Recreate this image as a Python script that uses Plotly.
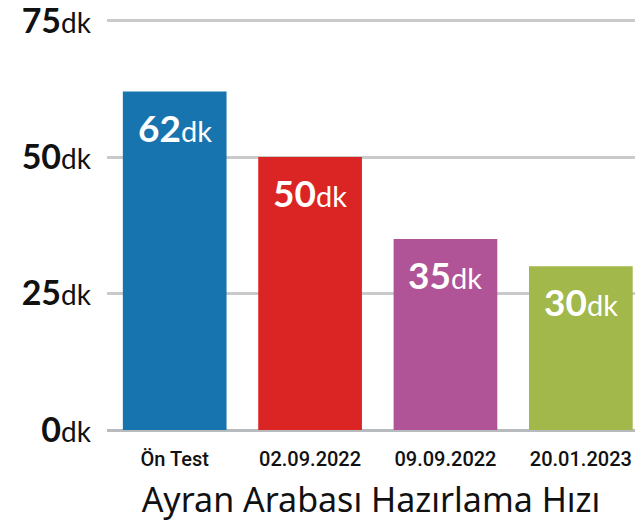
import plotly.graph_objects as go

# Preparation time per session, in minutes ("dk")
categories = ["Ön Test", "02.09.2022", "09.09.2022", "20.01.2023"]
minutes = [62, 50, 35, 30]
bar_colors = ["#1874AE", "#DB2424", "#B05497", "#A2B84A"]
tick_values = [0, 25, 50, 75]
tick_labels = [f"<b>{v}</b><span style='font-size:28px'>dk</span>" for v in tick_values]

fig = go.Figure()
fig.add_trace(go.Bar(
    x=categories,
    y=minutes,
    marker=dict(color=bar_colors, line=dict(width=0)),
    hoverinfo="skip",
))

# Value labels inside the top of each bar
for cat, val in zip(categories, minutes):
    fig.add_annotation(
        x=cat, y=val, xref="x", yref="y",
        text=f"<b>{val}</b><span style='font-size:29px'>dk</span>",
        showarrow=False, yanchor="top", yshift=-11,
        font=dict(family="Lato", size=37, color="white"),
    )

fig.update_layout(
    width=643, height=526,
    margin=dict(l=107, r=8, t=19, b=96),
    paper_bgcolor="white", plot_bgcolor="white",
    bargap=0.234,
    showlegend=False,
    font=dict(family="Lato", color="#111111"),
)
fig.update_xaxes(
    range=[-0.5, 3.4],
    automargin=False,
    tickfont=dict(family="Roboto", size=20, color="#111111", weight=500),
    ticks="", showline=False, showgrid=False,
    ticklabelstandoff=15,
    title=dict(text="Ayran Arabası Hazırlama Hızı",
               font=dict(family="Noto Sans", size=34, color="#111111"), standoff=18),
)
fig.update_yaxes(
    range=[0, 75.3],
    automargin=False,
    ticklabeloverflow="allow",
    tickvals=tick_values, ticktext=tick_labels,
    tickfont=dict(family="Lato", size=34, color="#111111"),
    showgrid=True, gridcolor="#C8CACC", gridwidth=3,
    zeroline=True, zerolinecolor="#B8BBBE", zerolinewidth=3,
    ticks="", ticklen=0, showline=False,
    ticklabelstandoff=15,
)

fig.write_html("out.html")
